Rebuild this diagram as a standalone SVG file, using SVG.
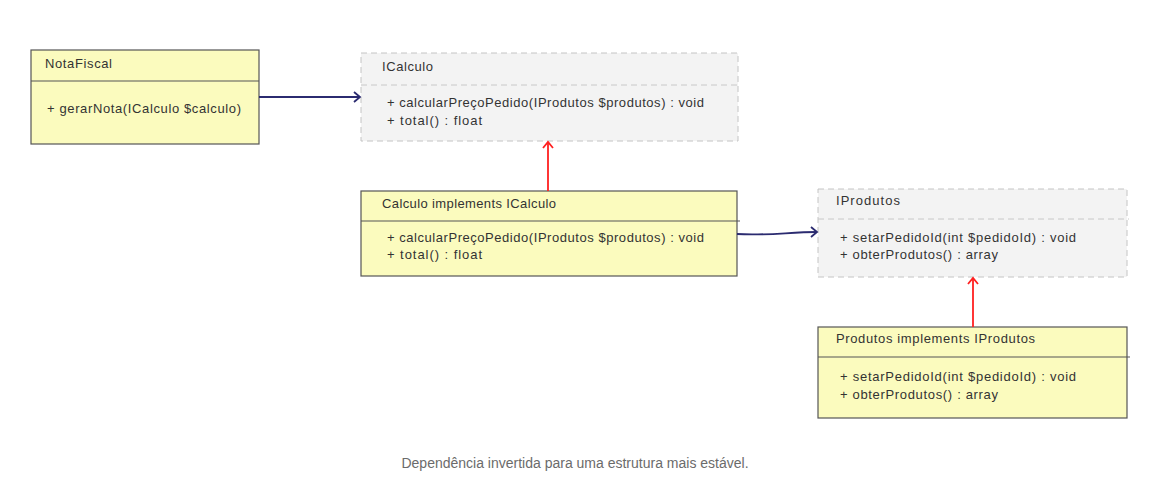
<svg xmlns="http://www.w3.org/2000/svg" width="1152" height="489" viewBox="0 0 1152 489">
<style>
.cls{fill:#fbfbbe;stroke:#555;stroke-width:1.2}
.div{stroke:#555;stroke-width:1.2}
.ifc{fill:#f3f3f3;stroke:#c4c4c4;stroke-width:1;stroke-dasharray:6 4}
.idiv{stroke:#c8c8c8;stroke-width:1;stroke-dasharray:6 4}
.t{font-family:"Liberation Sans",Arial,sans-serif;font-size:13px;fill:#333}
.dep{fill:none;stroke:#2b2b70;stroke-width:1.8}
.real{fill:none;stroke:#ff2020;stroke-width:1.8}
.cap{font-family:"Liberation Sans",Arial,sans-serif;font-size:14px;fill:#6b6b6b}
</style>
<defs>
<marker id="aDep" markerWidth="12" markerHeight="12" refX="9" refY="6" orient="auto" markerUnits="userSpaceOnUse">
<path d="M3,1 L9,6 L3,11" fill="none" stroke="#2b2b70" stroke-width="1.8"/>
</marker>
<marker id="aReal" markerWidth="12" markerHeight="12" refX="9" refY="6" orient="auto" markerUnits="userSpaceOnUse">
<path d="M3,1 L9,6 L3,11" fill="none" stroke="#ff2020" stroke-width="1.8"/>
</marker>
</defs>
<rect width="1152" height="489" fill="#fff"/>
<g id="NotaFiscal">
<rect class="cls" x="31" y="50" width="228" height="94"/>
<line class="div" x1="31" y1="81" x2="259" y2="81"/>
<text class="t" x="45" y="68" textLength="67">NotaFiscal</text>
<text class="t" x="47" y="113" textLength="194">+ gerarNota(ICalculo $calculo)</text>
</g>
<g id="ICalculo">
<rect class="ifc" x="361" y="53" width="377" height="88"/>
<line class="idiv" x1="361" y1="85" x2="740" y2="85"/>
<text class="t" x="382" y="71" textLength="51">ICalculo</text>
<text class="t" x="387" y="107" textLength="317">+ calcularPreçoPedido(IProdutos $produtos) : void</text>
<text class="t" x="387" y="125" textLength="95">+ total() : float</text>
</g>
<g id="Calculo">
<rect class="cls" x="361" y="191" width="376" height="85"/>
<line class="div" x1="361" y1="221" x2="740" y2="221"/>
<text class="t" x="382" y="208" textLength="174">Calculo implements ICalculo</text>
<text class="t" x="387" y="242" textLength="317">+ calcularPreçoPedido(IProdutos $produtos) : void</text>
<text class="t" x="387" y="259" textLength="95">+ total() : float</text>
</g>
<g id="IProdutos">
<rect class="ifc" x="818" y="189" width="309" height="88"/>
<line class="idiv" x1="818" y1="219" x2="1129" y2="219"/>
<text class="t" x="836" y="205" textLength="64">IProdutos</text>
<text class="t" x="840" y="242" textLength="236">+ setarPedidoId(int $pedidoId) : void</text>
<text class="t" x="840" y="259" textLength="158">+ obterProdutos() : array</text>
</g>
<g id="Produtos">
<rect class="cls" x="818" y="327" width="309" height="91"/>
<line class="div" x1="818" y1="357" x2="1130" y2="357"/>
<text class="t" x="836" y="343" textLength="199">Produtos implements IProdutos</text>
<text class="t" x="840" y="381" textLength="236">+ setarPedidoId(int $pedidoId) : void</text>
<text class="t" x="840" y="399" textLength="158">+ obterProdutos() : array</text>
</g>
<g id="connectors">
<path class="dep" d="M259,97 L360,97" marker-end="url(#aDep)"/>
<path class="dep" d="M737,234 C765,236 790,232 817,232" marker-end="url(#aDep)"/>
<path class="real" d="M548,191 L548,142" marker-end="url(#aReal)"/>
<path class="real" d="M973,327 L973,278" marker-end="url(#aReal)"/>
</g>
<text class="cap" x="575" y="468" text-anchor="middle">Dependência invertida para uma estrutura mais estável.</text>
</svg>
